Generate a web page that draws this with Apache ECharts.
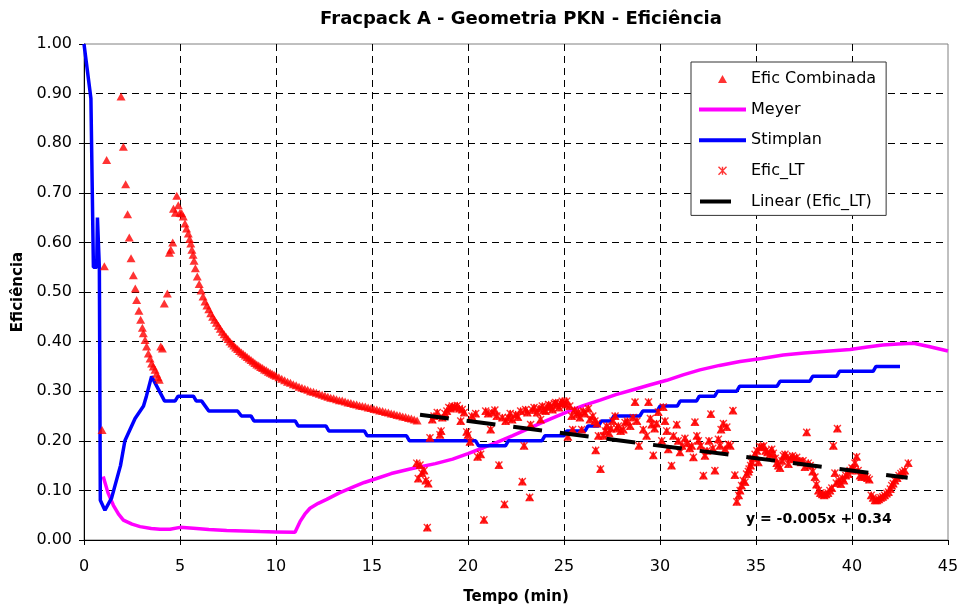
<!DOCTYPE html>
<html>
<head>
<meta charset="utf-8">
<title>Fracpack A - Geometria PKN - Eficiência</title>
<script src="https://cdn.jsdelivr.net/npm/echarts@6/dist/echarts.min.js"></script>
<style>
  html, body { margin: 0; padding: 0; background: #ffffff; }
  #chart { width: 959px; height: 608px; }
</style>
</head>
<body>
<div id="chart"></div>
<script>
// ---- data: [tempo (min), eficiência] ----
const xTicks = [0, 5, 10, 15, 20, 25, 30, 35, 40, 45];
const yTicks = [0.00, 0.10, 0.20, 0.30, 0.40, 0.50, 0.60, 0.70, 0.80, 0.90, 1.00];

// Efic Combinada before the late-time window
const eficCombinadaInicio = [
  [0.94,0.222],[1.06,0.552],[1.18,0.766],[1.93,0.894],[2.05,0.793],[2.17,0.717],[2.27,0.657],
  [2.36,0.61],[2.45,0.568],[2.57,0.534],[2.67,0.507],[2.74,0.484],[2.86,0.462],[2.95,0.444],
  [3.04,0.428],[3.09,0.417],[3.18,0.403],[3.26,0.39],[3.35,0.376],[3.44,0.366],[3.52,0.356],
  [3.61,0.35],[3.7,0.343],[3.78,0.335],[3.86,0.328],[3.92,0.323],[4.0,0.39],[4.08,0.386],
  [4.18,0.477],[4.34,0.497],[4.45,0.579],[4.52,0.585],[4.62,0.6],[4.66,0.668],[4.76,0.66],
  [4.83,0.694],[4.91,0.675],[5.0,0.66],[5.09,0.659],[5.17,0.652],[5.26,0.638],[5.34,0.628],
  [5.43,0.618],[5.5,0.607],[5.56,0.598],[5.62,0.585],[5.68,0.575],[5.73,0.563],
  [5.8,0.548],[5.9,0.531],[6.0,0.516],[6.1,0.503],[6.2,0.491],[6.3,0.481],[6.4,0.473],
  [6.5,0.465],[6.6,0.457],[6.7,0.45],[6.8,0.444],[6.9,0.438],[7.0,0.432],[7.1,0.426],
  [7.2,0.42],[7.3,0.415],[7.4,0.41],[7.5,0.405],[7.6,0.4],[7.7,0.396],[7.8,0.392],
  [7.9,0.388],[8.0,0.385],[8.1,0.381],[8.2,0.378],[8.3,0.375],[8.4,0.372],[8.5,0.369],
  [8.6,0.366],[8.7,0.363],[8.8,0.36],[8.9,0.357],[9.0,0.354],[9.1,0.352],[9.2,0.349],
  [9.3,0.347],[9.4,0.344],[9.5,0.342],[9.6,0.339],[9.7,0.337],[9.8,0.335],[9.9,0.333],
  [10.0,0.331],[10.15,0.328],[10.3,0.325],[10.45,0.322],[10.6,0.319],[10.75,0.317],
  [10.9,0.314],[11.05,0.312],[11.2,0.309],[11.35,0.307],[11.5,0.305],[11.65,0.303],
  [11.8,0.3],[11.95,0.299],[12.1,0.297],[12.25,0.295],[12.4,0.293],[12.55,0.291],
  [12.7,0.289],[12.85,0.287],[13.0,0.286],[13.15,0.284],[13.3,0.282],[13.45,0.281],
  [13.6,0.279],[13.75,0.277],[13.9,0.276],[14.05,0.274],[14.2,0.273],[14.35,0.271],
  [14.5,0.27],[14.65,0.269],[14.8,0.267],[14.95,0.266],[15.1,0.264],[15.25,0.263],
  [15.4,0.261],[15.55,0.26],[15.7,0.258],[15.85,0.257],[16.0,0.255],[16.15,0.254],
  [16.3,0.252],[16.45,0.251],[16.6,0.249],[16.75,0.248],[16.9,0.246],[17.05,0.245],
  [17.2,0.243],[17.35,0.241]
];

// Efic_LT: late-time efficiency (also part of Efic Combinada)
const eficLT = [
  [17.33,0.155],[17.41,0.124],[17.5,0.151],[17.6,0.135],[17.71,0.14],[17.8,0.12],[17.88,0.025],
  [17.93,0.114],[18.02,0.206],[18.14,0.243],[18.23,0.25],[18.4,0.257],[18.54,0.212],[18.6,0.22],
  [18.66,0.247],[18.8,0.255],[18.9,0.26],[19.0,0.267],[19.1,0.265],[19.18,0.27],[19.3,0.268],
  [19.44,0.271],[19.55,0.265],[19.62,0.24],[19.7,0.263],[19.8,0.257],[19.93,0.218],[20.0,0.212],
  [20.1,0.198],[20.2,0.25],[20.4,0.255],[20.5,0.168],[20.66,0.173],[20.83,0.041],[20.92,0.26],
  [21.05,0.255],[21.18,0.223],[21.25,0.257],[21.4,0.262],[21.5,0.25],[21.61,0.151],[21.79,0.247],
  [21.9,0.072],[21.96,0.24],[22.1,0.247],[22.2,0.255],[22.3,0.243],[22.48,0.253],[22.6,0.248],
  [22.74,0.26],[22.83,0.118],[22.92,0.19],[23.0,0.263],[23.09,0.257],[23.21,0.086],[23.26,0.233],
  [23.35,0.262],[23.44,0.267],[23.6,0.257],[23.7,0.265],[23.78,0.243],[23.87,0.27],[23.95,0.262],
  [24.04,0.26],[24.12,0.268],[24.2,0.273],[24.3,0.27],[24.4,0.263],[24.5,0.275],[24.57,0.277],
  [24.65,0.272],[24.74,0.267],[24.82,0.276],[24.91,0.28],[25.0,0.276],[25.08,0.273],[25.14,0.28],
  [25.2,0.208],[25.3,0.27],[25.4,0.25],[25.45,0.223],[25.55,0.262],[25.66,0.253],[25.75,0.258],
  [25.83,0.247],[25.92,0.223],[26.0,0.26],[26.1,0.255],[26.27,0.265],[26.35,0.243],[26.5,0.25],
  [26.61,0.24],[26.65,0.181],[26.72,0.235],[26.79,0.21],[26.9,0.143],[27.05,0.21],[27.15,0.22],
  [27.22,0.23],[27.35,0.215],[27.45,0.225],[27.55,0.24],[27.66,0.25],[27.75,0.225],[27.83,0.23],
  [27.95,0.22],[28.09,0.223],[28.18,0.237],[28.3,0.24],[28.45,0.23],[28.6,0.247],[28.7,0.278],
  [28.8,0.24],[28.9,0.19],[29.13,0.223],[29.3,0.21],[29.4,0.278],[29.5,0.245],[29.57,0.233],
  [29.65,0.171],[29.72,0.225],[29.82,0.235],[29.91,0.258],[30.09,0.2],[30.17,0.268],[30.26,0.24],
  [30.35,0.22],[30.43,0.183],[30.6,0.15],[30.7,0.21],[30.87,0.233],[30.95,0.2],[31.04,0.177],
  [31.15,0.19],[31.3,0.205],[31.42,0.195],[31.55,0.185],[31.65,0.19],[31.74,0.167],[31.82,0.238],
  [31.92,0.21],[32.0,0.2],[32.12,0.19],[32.26,0.13],[32.34,0.17],[32.45,0.18],[32.55,0.2],
  [32.65,0.254],[32.75,0.185],[32.86,0.14],[33.04,0.203],[33.12,0.19],[33.18,0.223],[33.3,0.235],
  [33.39,0.183],[33.48,0.228],[33.56,0.193],[33.66,0.19],[33.8,0.261],[33.9,0.131],[34.0,0.077],
  [34.1,0.09],[34.17,0.1],[34.25,0.11],[34.34,0.12],[34.43,0.117],[34.51,0.133],[34.6,0.138],
  [34.64,0.143],[34.72,0.15],[34.77,0.157],[34.85,0.165],[34.95,0.173],[35.05,0.18],[35.12,0.157],
  [35.2,0.188],[35.3,0.187],[35.4,0.19],[35.5,0.18],[35.6,0.177],[35.72,0.172],[35.82,0.183],
  [35.9,0.175],[36.0,0.165],[36.08,0.155],[36.16,0.15],[36.25,0.145],[36.35,0.16],[36.43,0.17],
  [36.51,0.173],[36.6,0.168],[36.69,0.153],[36.8,0.165],[36.9,0.17],[37.0,0.163],[37.12,0.167],
  [37.25,0.16],[37.35,0.157],[37.45,0.16],[37.55,0.147],[37.64,0.217],[37.72,0.155],[37.82,0.15],
  [37.95,0.138],[38.07,0.127],[38.15,0.112],[38.25,0.1],[38.35,0.095],[38.45,0.092],[38.55,0.09],
  [38.65,0.092],[38.75,0.095],[38.85,0.1],[38.95,0.105],[39.03,0.19],[39.11,0.135],[39.18,0.115],
  [39.24,0.225],[39.32,0.12],[39.42,0.113],[39.5,0.125],[39.58,0.12],[39.68,0.13],[39.81,0.133],
  [39.9,0.14],[40.0,0.145],[40.07,0.143],[40.15,0.155],[40.24,0.168],[40.32,0.14],[40.42,0.13],
  [40.5,0.127],[40.6,0.13],[40.7,0.128],[40.8,0.125],[40.9,0.122],[41.0,0.09],[41.1,0.085],
  [41.2,0.08],[41.3,0.08],[41.4,0.082],[41.5,0.085],[41.6,0.087],[41.7,0.09],[41.8,0.094],
  [41.9,0.097],[42.0,0.103],[42.07,0.11],[42.15,0.114],[42.24,0.12],[42.35,0.125],[42.45,0.13],
  [42.55,0.134],[42.65,0.137],[42.75,0.14],[42.93,0.155]
];

const meyer = [
  [1.0,0.128],[1.25,0.095],[1.53,0.07],[1.8,0.052],[2.05,0.04],[2.5,0.032],[2.92,0.027],
  [3.5,0.023],[3.96,0.0215],[4.48,0.0215],[5.0,0.0255],[5.69,0.0235],[6.5,0.021],[7.43,0.019],
  [8.3,0.018],[9.17,0.017],[10.0,0.0163],[10.99,0.0155],[11.25,0.037],[11.5,0.052],[11.77,0.064],
  [12.2,0.074],[12.64,0.082],[13.3,0.095],[14.03,0.107],[14.6,0.116],[15.24,0.124],[16.0,0.134],
  [16.98,0.143],[18.3,0.154],[19.2,0.163],[20.0,0.174],[20.8,0.186],[21.5,0.197],[22.3,0.21],
  [23.0,0.222],[23.7,0.234],[24.3,0.244],[25.2,0.259],[26.0,0.271],[26.88,0.282],[27.7,0.293],
  [28.6,0.303],[29.5,0.313],[30.35,0.322],[31.2,0.333],[32.08,0.343],[33.1,0.352],[34.17,0.36],
  [35.3,0.366],[36.42,0.373],[37.5,0.377],[38.5,0.38],[39.9,0.384],[40.8,0.389],[41.6,0.393],
  [42.4,0.395],[43.2,0.3965],[44.0,0.39],[45.0,0.381]
];

const stimplan = [
  [0,1.0],[0.36,0.89],[0.49,0.55],[0.66,0.55],[0.7,0.65],[0.78,0.65],[0.8,0.55],[0.85,0.08],
  [1.09,0.06],[1.44,0.085],[1.9,0.15],[2.13,0.2],[2.66,0.245],[3.1,0.27],[3.2,0.27],[3.25,0.29],
  [3.52,0.33],[4.2,0.28],[4.74,0.28],[4.9,0.29],[5.7,0.29],[5.85,0.28],[6.13,0.28],[6.5,0.26],
  [8.0,0.26],[8.2,0.25],[8.7,0.25],[8.85,0.24],[11.0,0.24],[11.15,0.23],[12.6,0.23],[12.75,0.22],
  [14.6,0.22],[14.75,0.21],[16.8,0.21],[16.95,0.2],[20.4,0.2],[20.55,0.19],[21.95,0.19],
  [22.1,0.2],[23.85,0.2],[24.0,0.21],[25.0,0.21],[25.15,0.22],[26.1,0.22],[26.25,0.23],
  [26.8,0.23],[26.95,0.24],[27.45,0.24],[27.6,0.25],[28.95,0.25],[29.1,0.26],[29.85,0.26],
  [30.0,0.27],[30.9,0.27],[31.05,0.28],[31.9,0.28],[32.05,0.29],[32.85,0.29],[33.0,0.3],
  [34.0,0.3],[34.15,0.31],[36.1,0.31],[36.25,0.32],[37.8,0.32],[37.95,0.33],[39.2,0.33],
  [39.35,0.34],[41.1,0.34],[41.25,0.35],[42.5,0.35]
];

// linear fit of Efic_LT, as printed on the chart
const trendSlope = -0.005;
const trendIntercept = 0.34;
const trendRange = [17.5, 42.9];
const trendLabel = 'y = -0.005x + 0.34';

// ---- chart ----
const FONT = 'DejaVu Sans';
const trendCoords = trendRange.map(function (x) { return [x, trendIntercept + trendSlope * x]; });
const starPath = 'path://M0,0L10,10M10,0L0,10M5,0L5,10';
const hidden = { opacity: 0 };
// near-invisible corner dots span the full 47x8 legend icon box so the shape keeps its size
const iconBox = 'M0,0h0.05v0.05h-0.05z M46.95,7.95h0.05v0.05h-0.05z ';
const legendTriangle = 'path://' + iconBox + 'M19,8L28,8L23.5,0Z';
const legendTrend = 'path://' + iconBox + 'M1,2h31v4h-31z';

const chart = echarts.init(document.getElementById('chart'), null, { renderer: 'canvas' });

chart.setOption({
  animation: false,
  backgroundColor: '#ffffff',
  title: {
    text: 'Fracpack A - Geometria PKN - Eficiência',
    left: 516,
    textAlign: 'center',
    top: 5,
    textStyle: { fontFamily: FONT, fontSize: 18, fontWeight: 'bold', color: '#000' }
  },
  grid: {
    left: 84, right: 11, top: 44, bottom: 68,
    outerBoundsMode: 'none', containLabel: false,
    show: true, borderColor: '#808080', borderWidth: 1, backgroundColor: 'transparent'
  },
  legend: {
    left: 691, top: 62,
    orient: 'vertical',
    padding: [7, 10, 4, 6],
    itemWidth: 47, itemHeight: 8, itemGap: 10.6,
    backgroundColor: '#ffffff',
    borderColor: '#333333', borderWidth: 1,
    textStyle: { fontFamily: FONT, fontSize: 16, color: '#000', lineHeight: 20 },
    selectedMode: false,
    data: [
      { name: 'Efic Combinada', icon: legendTriangle, itemStyle: { color: '#ff0000', borderWidth: 0 } },
      { name: 'Meyer', lineStyle: { width: 4, color: '#ff00ff', type: 'solid' }, itemStyle: hidden },
      { name: 'Stimplan', lineStyle: { width: 4, color: '#0000ff', type: 'solid' }, itemStyle: hidden },
      { name: 'Efic_LT', icon: starPath,
        itemStyle: { color: '#ff0000', borderColor: '#ff0000', borderWidth: 1.4 } },
      { name: 'Linear (Efic_LT)', icon: legendTrend, itemStyle: { color: '#000000', borderWidth: 0 } }
    ]
  },
  xAxis: {
    type: 'value', min: xTicks[0], max: xTicks[xTicks.length - 1], interval: 5,
    name: 'Tempo (min)', nameLocation: 'middle', nameGap: 50,
    nameTextStyle: { fontFamily: FONT, fontSize: 15, fontWeight: 'bold', color: '#000' },
    axisLine: { show: true, onZero: false, lineStyle: { color: '#000', width: 1 } },
    axisTick: { show: true, inside: false, length: 5, lineStyle: { color: '#000' } },
    axisLabel: { fontFamily: FONT, fontSize: 16, color: '#000', margin: 19 },
    splitLine: { show: true, showMinLine: false, showMaxLine: false,
      lineStyle: { color: '#000', width: 1, type: [7, 5] } }
  },
  yAxis: {
    type: 'value', min: yTicks[0], max: yTicks[yTicks.length - 1], interval: 0.1,
    name: 'Eficiência', nameLocation: 'middle', nameGap: 58, nameRotate: 90,
    nameTextStyle: { fontFamily: FONT, fontSize: 15, fontWeight: 'bold', color: '#000' },
    axisLine: { show: true, onZero: false, lineStyle: { color: '#000', width: 1 } },
    axisTick: { show: true, inside: false, length: 5, lineStyle: { color: '#000' } },
    axisLabel: { fontFamily: FONT, fontSize: 16, color: '#000', margin: 12,
      formatter: function (v) { return v.toFixed(2); } },
    splitLine: { show: true, showMinLine: false, showMaxLine: false,
      lineStyle: { color: '#000', width: 1, type: [7, 5] } }
  },
  series: [
    {
      name: 'Efic Combinada', type: 'scatter', z: 3,
      symbol: 'triangle', symbolSize: [9, 8],
      itemStyle: { color: '#ff0000' },
      data: eficCombinadaInicio.concat(eficLT)
    },
    {
      name: 'Meyer', type: 'line', z: 2, symbol: 'none', smooth: false,
      lineStyle: { color: '#ff00ff', width: 3.5 },
      itemStyle: { color: '#ff00ff' },
      data: meyer
    },
    {
      name: 'Stimplan', type: 'line', z: 2, symbol: 'none', smooth: false,
      lineStyle: { color: '#0000ff', width: 3.5 },
      itemStyle: { color: '#0000ff' },
      data: stimplan
    },
    {
      name: 'Efic_LT', type: 'scatter', z: 4,
      symbol: starPath, symbolSize: 7,
      itemStyle: { color: '#ff0000', borderColor: '#ff0000', borderWidth: 1.4 },
      data: eficLT
    },
    {
      name: 'Linear (Efic_LT)', type: 'lines', coordinateSystem: 'cartesian2d', z: 5,
      symbol: ['none', 'none'],
      itemStyle: { color: '#000000' },
      lineStyle: { color: '#000000', width: 4, type: [29, 18], opacity: 1, curveness: 0 },
      data: [{ coords: trendCoords }]
    }
  ],
  graphic: [
    {
      type: 'text', left: 746, top: 512, z: 10,
      style: { text: trendLabel, fontFamily: FONT, fontSize: 14, fontWeight: 'bold', fill: '#000' }
    }
  ]
});
</script>
</body>
</html>
